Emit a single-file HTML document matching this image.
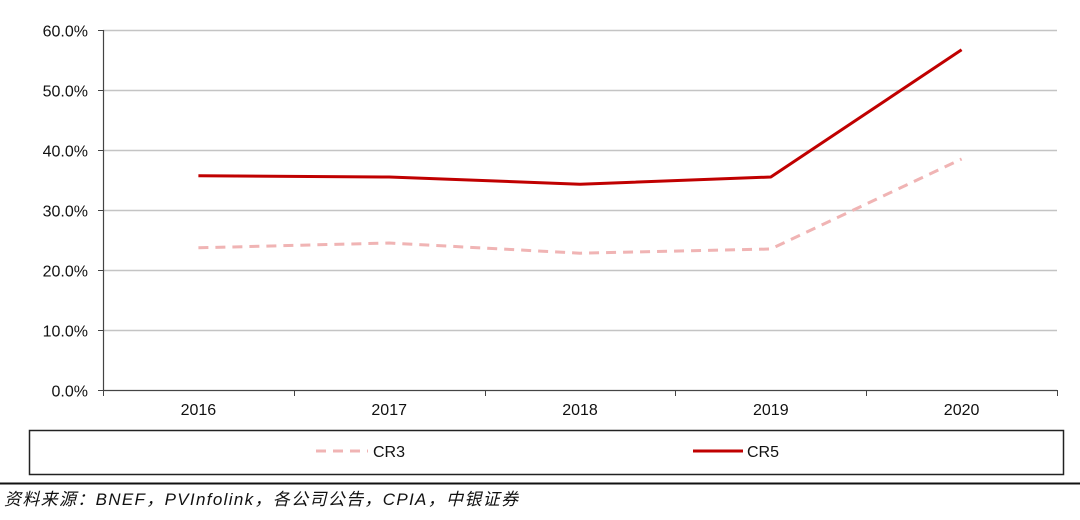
<!DOCTYPE html>
<html><head><meta charset="utf-8"><style>
html,body{margin:0;padding:0;background:#fff;width:1080px;height:520px;overflow:hidden}
svg text{font-family:"Liberation Sans","Noto Sans CJK SC",sans-serif}
</style></head><body>
<svg id="chart" width="1080" height="520" xmlns="http://www.w3.org/2000/svg">
<g id="grid"></g>
<g id="axes"></g>
<g id="series"></g>
<g>
<rect x="29.5" y="430.5" width="1034" height="44" fill="none" stroke="#222" stroke-width="1.5"/>
<line x1="316" y1="451" x2="368" y2="451" stroke="#f0b4b4" stroke-width="3" stroke-dasharray="10,7"/>
<text x="373" y="457" font-size="16" fill="#111">CR3</text>
<line x1="693" y1="451" x2="743" y2="451" stroke="#c00000" stroke-width="3"/>
<text x="747" y="457" font-size="16" fill="#111">CR5</text>
</g>
<line x1="0" y1="483.5" x2="1080" y2="483.5" stroke="#111" stroke-width="2"/>
<text x="4" y="505" font-size="17" font-style="italic" fill="#111" textLength="514" lengthAdjust="spacing">资料来源：BNEF，PVInfolink，各公司公告，CPIA，中银证券</text>
</svg>
<script>
const categories = ["2016","2017","2018","2019","2020"];
const cr3 = [23.7, 24.5, 22.8, 23.5, 38.5];
const cr5 = [35.7, 35.5, 34.3, 35.5, 56.7];
const yTicks = [0,10,20,30,40,50,60];
const yTickLabels = ["0.0%","10.0%","20.0%","30.0%","40.0%","50.0%","60.0%"];

const NS="http://www.w3.org/2000/svg";
const X0=103, X1=1057, Y0=390, Y1=30, YMAX=60;
const bw=(X1-X0)/categories.length;
function xPos(i){return X0+bw*(i+0.5);}
function yPos(v){return Y0-(v/YMAX)*(Y0-Y1);}
function mk(tag,attrs,parent){const e=document.createElementNS(NS,tag);for(const k in attrs)e.setAttribute(k,attrs[k]);parent.appendChild(e);return e;}
const grid=document.getElementById('grid'),axes=document.getElementById('axes'),series=document.getElementById('series');

yTicks.forEach((t,i)=>{
  const y=Math.round(yPos(t))+0.5;
  if(t>0){const g=mk('line',{x1:X0,y1:y,x2:X1,y2:y,stroke:'#c4c4c4','stroke-width':1.5},grid);
  
  }
  const tk=mk('line',{x1:98,y1:y,x2:X0,y2:y,stroke:'#444','stroke-width':1},axes);
  
  
  const lb=mk('text',{x:88,y:y+6,'text-anchor':'end','font-size':16,fill:'#111'},axes);
  lb.textContent=yTickLabels[i];
  
  
});
const ya=mk('line',{x1:X0+0.5,y1:Y1,x2:X0+0.5,y2:Y0,stroke:'#444','stroke-width':1.2},axes);


const xa=mk('line',{x1:X0,y1:Y0+0.5,x2:X1,y2:Y0+0.5,stroke:'#444','stroke-width':1.2},axes);


for(let i=0;i<=categories.length;i++){
  const x=Math.round(X0+bw*i)+0.5;
  const t=mk('line',{x1:x,y1:Y0,x2:x,y2:Y0+6,stroke:'#444','stroke-width':1},axes);
  
  
}
categories.forEach((c,i)=>{
  const t=mk('text',{x:xPos(i),y:415,'text-anchor':'middle','font-size':16,fill:'#111'},axes);
  t.textContent=c;
  
  
});
function pts(arr){return arr.map((v,i)=>xPos(i)+','+yPos(v)).join(' ');}
const l3=mk('polyline',{points:pts(cr3),fill:'none',stroke:'#f0b4b4','stroke-width':3,'stroke-dasharray':'10,7'},series);


const l5=mk('polyline',{points:pts(cr5),fill:'none',stroke:'#c00000','stroke-width':3,'stroke-linejoin':'round'},series);


</script>
</body></html>
